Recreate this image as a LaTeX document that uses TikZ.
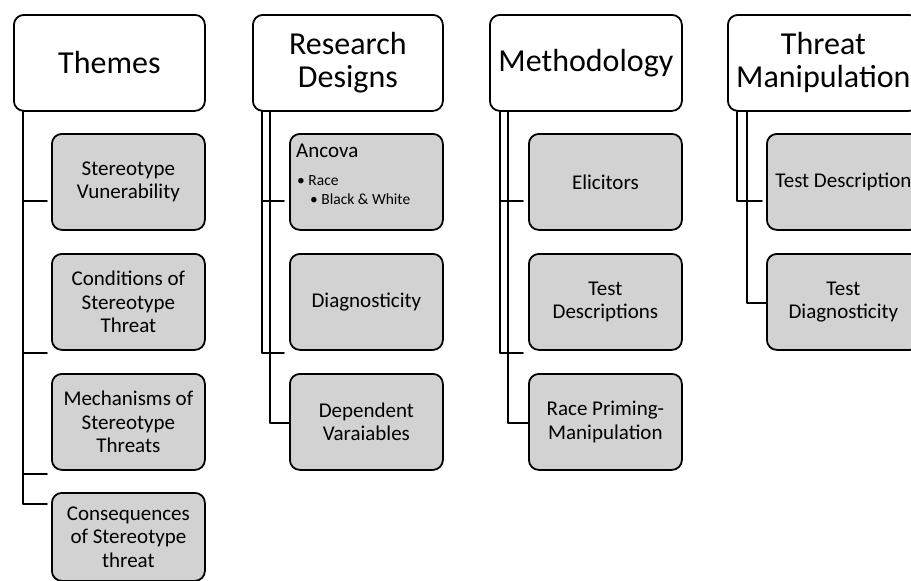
\documentclass[tikz,border=0pt]{standalone}
\usepackage{fontspec}
\setmainfont{Carlito}
\definecolor{boxgray}{RGB}{210,210,210}
\tikzset{
	headbox/.style={draw, rounded corners=10pt, line width=1.8pt, fill=white, anchor=north west, inner sep=0pt, minimum height=96pt, align=center, font=\fontsize{32}{33}\selectfont},
	itembox/.style={draw, rounded corners=10pt, line width=1.8pt, fill=boxgray, anchor=north west, inner sep=0pt, minimum width=153pt, minimum height=96pt, align=center, font=\fontsize{21}{23.5}\selectfont},
	link/.style={line width=1.8pt}
}
\begin{document}
\begin{tikzpicture}[
		x=1pt,y=-1pt,
		line cap=round,
		line join=round
		]
		\useasboundingbox (0,0) rectangle (911,581);
		\clip (0,0) rectangle (911,581);
		\node[headbox,minimum width=191pt] (themes) at (13,14) {Themes};
		\node[headbox,minimum width=190pt] (designs) at (252,14) {Research\\Designs};
		\node[headbox,minimum width=192pt] (method) at (489,14) {Methodology};
		\node[headbox,minimum width=191pt] (threat) at (727,14) {Threat\\Manipulation};
		\node[itembox] (vuln) at (51,133) {Stereotype\\Vunerability};
		\node[itembox] (cond) at (51,253) {Conditions of\\Stereotype\\Threat};
		\node[itembox] (mech) at (51,373) {Mechanisms of\\Stereotype\\Threats};
		\node[itembox,minimum height=88pt] (cons) at (51,492) {Consequences\\of Stereotype\\threat};
		\node[itembox] (ancova) at (289,133) {};
		\node[anchor=base west,inner sep=0pt,font=\fontsize{21}{23.5}\selectfont] (ancovahead) at ([xshift=7pt,yshift=-24pt]ancova.north west) {Ancova};
		\node[anchor=base west,inner sep=0pt,font=\fontsize{15.5}{19}\selectfont] (race) at ([xshift=1pt,yshift=-28pt]ancovahead.base west) {• Race};
		\node[anchor=base west,inner sep=0pt,font=\fontsize{15.5}{19}\selectfont] (blackwhite) at ([xshift=13pt,yshift=-19pt]race.base west) {• Black \& White};
		\node[itembox] (diag) at (289,253) {Diagnosticity};
		\node[itembox] (depvar) at (289,373) {Dependent\\Varaiables};
		\node[itembox] (elicit) at (528,133) {Elicitors};
		\node[itembox] (testdesc) at (528,253) {Test\\Descriptions};
		\node[itembox] (priming) at (528,373) {Race Priming-\\Manipulation};
		\node[itembox] (tdescr) at (766,133) {Test Description};
		\node[itembox] (tdiag) at (766,253) {Test\\Diagnosticity};
		\begin{scope}[link]
		\draw ([xshift=10pt]themes.south west) |- ([xshift=-4pt,yshift=-19pt]vuln.west);
		\draw ([xshift=10pt]themes.south west) |- ([xshift=-4pt,yshift=-51pt]cond.west);
		\draw ([xshift=10pt]themes.south west) |- ([xshift=-4pt,yshift=-52pt]mech.west);
		\draw ([xshift=10pt]themes.south west) |- ([xshift=-4pt,yshift=33pt]cons.west);
		\draw ([xshift=10pt]designs.south west) |- ([xshift=-5pt,yshift=-19pt]ancova.west);
		\draw ([xshift=10pt]designs.south west) |- ([xshift=-5pt,yshift=-51pt]diag.west);
		\draw ([xshift=18pt]designs.south west) |- ([yshift=-1pt]depvar.west);
		\draw ([xshift=11pt]method.south west) |- ([xshift=-5pt,yshift=-19pt]elicit.west);
		\draw ([xshift=11pt]method.south west) |- ([xshift=-5pt,yshift=-51pt]testdesc.west);
		\draw ([xshift=19pt]method.south west) |- ([yshift=-1pt]priming.west);
		\draw ([xshift=10pt]threat.south west) |- ([xshift=-4pt,yshift=-19pt]tdescr.west);
		\draw ([xshift=20pt]threat.south west) |- ([yshift=-1pt]tdiag.west);
		\end{scope}
\end{tikzpicture}
\end{document}
